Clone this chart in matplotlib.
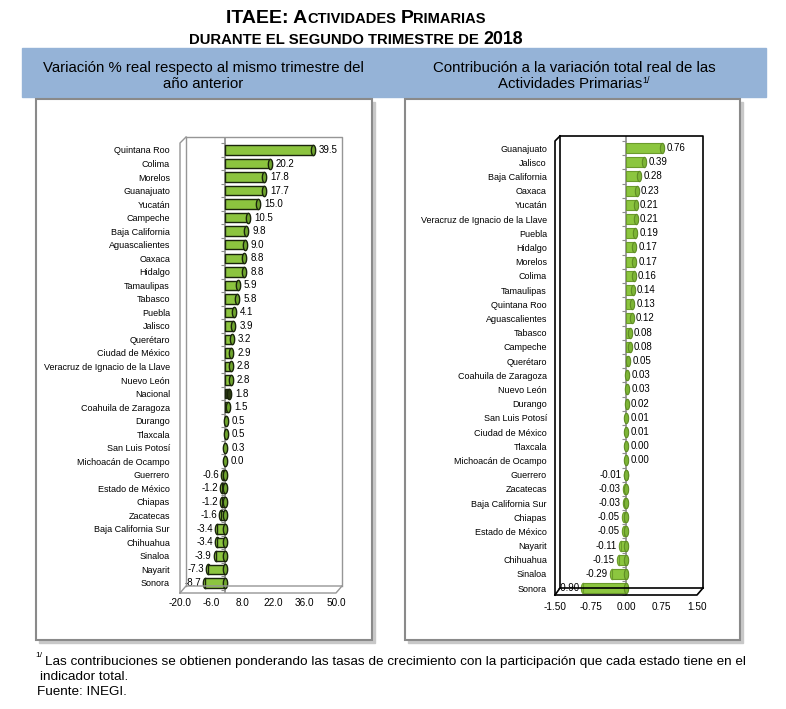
import numpy as np
import matplotlib
matplotlib.use("Agg")
import matplotlib.pyplot as plt
from matplotlib.path import Path
from matplotlib.patches import Rectangle
from matplotlib.lines import Line2D

plt.rcParams['font.family'] = ['Liberation Sans', 'DejaVu Sans']

W, H = 786, 709

# ---- datos ----
estados_var = ["Quintana Roo", "Colima", "Morelos", "Guanajuato", "Yucatán", "Campeche",
               "Baja California", "Aguascalientes", "Oaxaca", "Hidalgo", "Tamaulipas",
               "Tabasco", "Puebla", "Jalisco", "Querétaro", "Ciudad de México",
               "Veracruz de Ignacio de la Llave", "Nuevo León", "Nacional",
               "Coahuila de Zaragoza", "Durango", "Tlaxcala", "San Luis Potosí",
               "Michoacán de Ocampo", "Guerrero", "Estado de México", "Chiapas",
               "Zacatecas", "Baja California Sur", "Chihuahua", "Sinaloa", "Nayarit", "Sonora"]
variacion = [39.5, 20.2, 17.8, 17.7, 15.0, 10.5, 9.8, 9.0, 8.8, 8.8, 5.9, 5.8, 4.1, 3.9,
             3.2, 2.9, 2.8, 2.8, 1.8, 1.5, 0.5, 0.5, 0.3, 0.0, -0.6, -1.2, -1.2, -1.6,
             -3.4, -3.4, -3.9, -7.3, -8.7]

estados_con = ["Guanajuato", "Jalisco", "Baja California", "Oaxaca", "Yucatán",
               "Veracruz de Ignacio de la Llave", "Puebla", "Hidalgo", "Morelos", "Colima",
               "Tamaulipas", "Quintana Roo", "Aguascalientes", "Tabasco", "Campeche",
               "Querétaro", "Coahuila de Zaragoza", "Nuevo León", "Durango",
               "San Luis Potosí", "Ciudad de México", "Tlaxcala", "Michoacán de Ocampo",
               "Guerrero", "Zacatecas", "Baja California Sur", "Chiapas", "Estado de México",
               "Nayarit", "Chihuahua", "Sinaloa", "Sonora"]
contribucion = [0.76, 0.39, 0.28, 0.23, 0.21, 0.21, 0.19, 0.17, 0.17, 0.16, 0.14, 0.13,
                0.12, 0.08, 0.08, 0.05, 0.03, 0.03, 0.02, 0.01, 0.01, 0.00, 0.00, -0.01,
                -0.03, -0.03, -0.05, -0.05, -0.11, -0.15, -0.29, -0.90]

ticks_var = [-20.0, -6.0, 8.0, 22.0, 36.0, 50.0]
ticks_con = [-1.50, -0.75, 0.00, 0.75, 1.50]

fig = plt.figure(figsize=(W / 100, H / 100), dpi=100)


def fx(x):
    return x / W


def fy(y):
    return 1 - y / H


def linea(xs, ys, color, lw=1.0):
    fig.add_artist(Line2D([fx(x) for x in xs], [fy(y) for y in ys], color=color, lw=lw))


def rect(x0, y0, x1, y1, **kw):
    fig.add_artist(Rectangle((fx(x0), fy(y1)), (x1 - x0) / W, (y1 - y0) / H,
                             transform=fig.transFigure, **kw))


def piezas(partes, xc, y, weight='normal'):
    # texto en trozos de distinto tamaño, centrado en xc
    r = fig.canvas.get_renderer()
    objs, anchos = [], []
    for t, s, dy in partes:
        if t == " ":
            objs.append(None)
            anchos.append(0.278 * s * 100 / 72)
            continue
        o = fig.text(0, fy(y - dy), t, fontsize=s, fontweight=weight, va='baseline')
        objs.append(o)
        anchos.append(o.get_window_extent(r).width)
    x = xc - sum(anchos) / 2
    for o, a in zip(objs, anchos):
        if o is not None:
            o.set_x(fx(x))
        x += a


# ---- titulos ----
piezas([("ITAEE: A", 14, 0), ("CTIVIDADES", 10.5, 0), (" ", 10.5, 0), ("P", 14, 0),
        ("RIMARIAS", 10.5, 0)], 356, 23, weight='bold')
piezas([("DURANTE EL SEGUNDO TRIMESTRE DE", 10.7, 0), (" ", 10.7, 0), ("2018", 12.8, 0)],
       356, 44, weight='bold')

rect(22, 48, 766, 97, color='#95B3D7', zorder=-3)

# paneles con sombra
for x0, x1 in [(36, 372), (405, 740)]:
    rect(x0 + 3, 102, x1 + 3, 643, color='#C8C8C8', zorder=-2)
    rect(x0, 99, x1, 640, facecolor='white', edgecolor='#8A8A8A', lw=1.5, zorder=-1)

fig.text(fx(203), fy(68), "Variación % real respecto al mismo trimestre del",
         fontsize=10.8, ha='center', va='center')
fig.text(fx(203), fy(84), "año anterior", fontsize=10.8, ha='center', va='center')
fig.text(fx(574), fy(68), "Contribución a la variación total real de las",
         fontsize=10.8, ha='center', va='center')
piezas([("Actividades Primarias", 10.8, 0), ("1/", 6.5, 5)], 574, 88)

# nota al pie
fig.text(fx(35), fy(657), "1/", fontsize=6)
fig.text(fx(45), fy(662), "Las contribuciones se obtienen ponderando las tasas de crecimiento "
         "con la participación que cada estado tiene en el", fontsize=9.7, va='center')
fig.text(fx(40), fy(677), "indicador total.", fontsize=9.7, va='center')
fig.text(fx(37), fy(692), "Fuente: INEGI.", fontsize=9.7, va='center')

# tapa de cilindro
t = np.linspace(0, 2 * np.pi, 40)
tapa = Path(np.column_stack([0.42 * np.cos(t), np.sin(t)]), closed=True)


def grafica(pos, ylim, cats, vals, ticks, fmt, pad_y, pad_x, fill, edge, capfill, capedge,
            off_pos, off_neg, lw=0.8, especial=None):
    ax = fig.add_axes(pos)
    ax.set_facecolor('none')
    for s in ax.spines.values():
        s.set_visible(False)
    y = np.arange(len(cats))
    colores = [('#2B3A12' if c == especial else fill) for c in cats]
    ax.barh(y, vals, height=0.7, color=colores, edgecolor=edge, lw=lw, zorder=3)
    for yi, v, c, col in zip(y, vals, cats, colores):
        cf = '#2B3A12' if c == especial else capfill
        # extremo redondeado a la izquierda en las barras negativas
        if v < 0:
            ax.plot([v], [yi], ls='', marker=tapa, ms=7.4, mfc=col, mec=edge,
                    mew=lw, zorder=2.9)
        ax.plot([max(v, 0)], [yi], ls='', marker=tapa, ms=7.4, mfc=cf, mec=capedge,
                mew=lw, zorder=4)
        if v >= 0:
            ax.annotate(fmt % v, (v, yi), xytext=(off_pos, 0), textcoords='offset points',
                        ha='left', va='center', fontsize=7, zorder=5)
        else:
            ax.annotate(fmt % v, (v, yi), xytext=(off_neg, 0), textcoords='offset points',
                        ha='right', va='center', fontsize=7, zorder=5)
    ax.axvline(0, color='#8C8C8C', lw=1.2, zorder=2)
    ax.plot([0] * (len(cats) + 1), np.arange(len(cats) + 1) - 0.5, ls='', marker=0, ms=3,
            color='#8C8C8C', mew=0.8, zorder=2)
    ax.set_xlim(ticks[0], ticks[-1])
    ax.set_ylim(*ylim)
    ax.set_xticks(ticks)
    ax.set_xticklabels([fmt % v for v in ticks])
    ax.set_yticks(y)
    ax.set_yticklabels(cats)
    ax.tick_params(axis='y', length=0, pad=pad_y, labelsize=6.5)
    ax.tick_params(axis='x', length=0, pad=pad_x, labelsize=7.2)
    return ax


# panel izquierdo
grafica([fx(180), fy(593), 156 / W, (593 - 137) / H], (32.74, -0.96), estados_var, variacion,
        ticks_var, "%.1f", 7.2, 3.6, '#8CC43F', '#1A240C', '#6FA52E', '#1A240C', 4.5, -3,
        lw=1.0, especial="Nacional")
g = '#969696'
linea([186, 342, 342], [137, 137, 586], g)
linea([186, 186], [137, 586], g)
linea([186, 180, 180], [137, 143, 593], g)
linea([180, 336, 342], [593, 593, 586], g)
linea([180, 186, 342], [593, 586, 586], g)

# panel derecho
grafica([fx(555), fy(595), 142 / W, (595 - 136) / H], (31.48, -0.85), estados_con,
        contribucion, ticks_con, "%.2f", 5.8, 5, '#8CC63F', '#6B9B2C', '#7DB536', '#5F8C25',
        3, -3)
k = '#000000'
linea([560, 703, 703], [136, 136, 588], k, 1.2)
linea([560, 560], [136, 588], k, 1.2)
linea([560, 555, 555], [136, 141, 595], k, 1.2)
linea([555, 697, 703], [595, 595, 588], k, 1.2)
linea([555, 560, 703], [595, 588, 588], k, 1.2)

fig.savefig("out.png", dpi=100)
